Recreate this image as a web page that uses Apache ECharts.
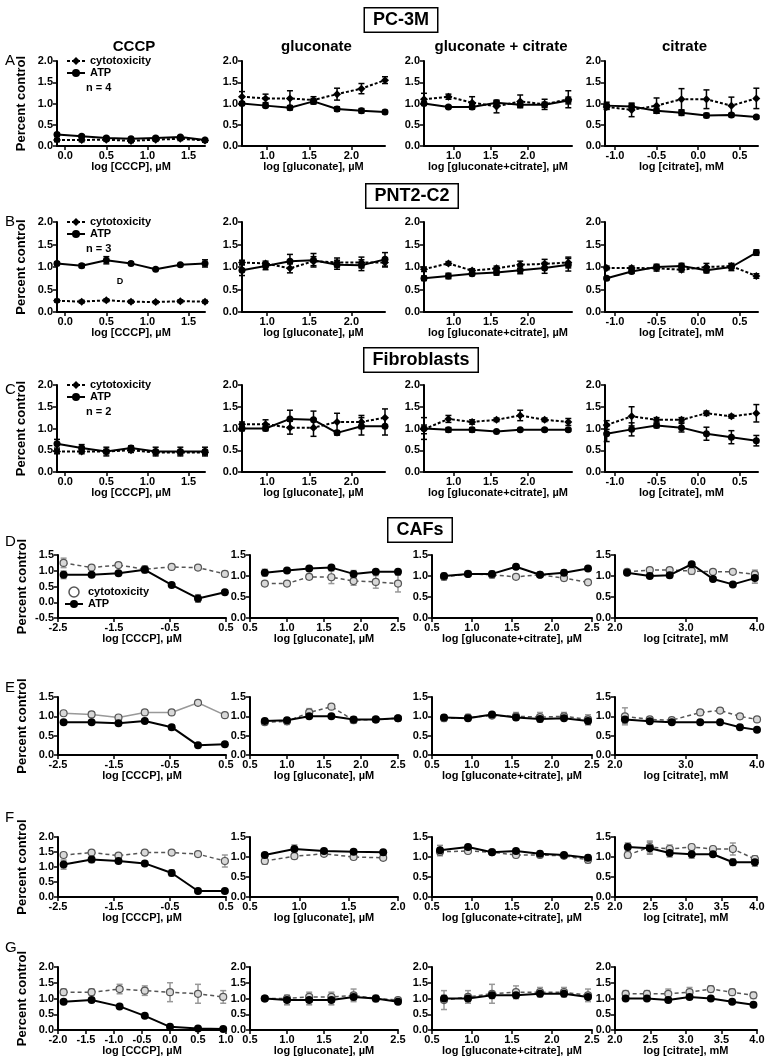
<!DOCTYPE html>
<html>
<head>
<meta charset="utf-8">
<script src="https://cdn.jsdelivr.net/npm/echarts@6/dist/echarts.min.js"></script>
<style>
html, body { margin: 0; padding: 0; background: #fff; }
#chart { width: 770px; height: 1060px; }
</style>
</head>
<body>
<div id="chart"></div>
<script>
// ---- x values (log dose), rows A-C share the same dilution series ----
const xAC = [[-0.1, 0.2, 0.5, 0.8, 1.1, 1.4, 1.7], [0.7, 0.98, 1.27, 1.55, 1.83, 2.12, 2.4], [0.6, 0.93, 1.25, 1.58, 1.9, 2.23, 2.55], [-1.1, -0.8, -0.5, -0.2, 0.1, 0.4, 0.7]];
const xD = [[-2.4, -1.9, -1.42, -0.95, -0.47, 0.0, 0.48], [0.7, 1.0, 1.3, 1.6, 1.9, 2.2, 2.5], [0.65, 0.95, 1.25, 1.55, 1.85, 2.15, 2.45], [2.17, 2.49, 2.77, 3.08, 3.38, 3.66, 3.97]];
const xE = [[-2.4, -1.9, -1.42, -0.95, -0.47, 0.0, 0.48], [0.7, 1.0, 1.3, 1.6, 1.9, 2.2, 2.5], [0.65, 0.95, 1.25, 1.55, 1.85, 2.15, 2.45], [2.14, 2.49, 2.8, 3.2, 3.48, 3.76, 4.0]];
const xF = [[-2.4, -1.9, -1.42, -0.95, -0.47, 0.0, 0.48], [0.65, 0.95, 1.25, 1.55, 1.85], [0.6, 0.95, 1.25, 1.55, 1.85, 2.15, 2.45], [2.18, 2.49, 2.77, 3.08, 3.38, 3.66, 3.97]];
const xG = [[-1.9, -1.4, -0.9, -0.45, 0.0, 0.5, 0.95], [0.7, 1.0, 1.3, 1.6, 1.9, 2.2, 2.5], [0.65, 0.95, 1.25, 1.55, 1.85, 2.15, 2.45], [2.15, 2.45, 2.75, 3.05, 3.35, 3.65, 3.95]];

// ---- PC-3M ----
const cytoA = [[0.14, 0.14, 0.15, 0.12, 0.15, 0.17, 0.13], [1.16, 1.12, 1.12, 1.08, 1.22, 1.35, 1.55], [1.1, 1.16, 1.02, 0.93, 1.05, 0.98, 1.1], [0.92, 0.85, 0.95, 1.1, 1.1, 0.95, 1.12]];
const cytoErrA = [[0.04, 0.04, 0.04, 0.04, 0.04, 0.04, 0.04], [0.12, 0.1, 0.18, 0.08, 0.14, 0.12, 0.08], [0.14, 0.06, 0.14, 0.15, 0.15, 0.12, 0.2], [0.06, 0.16, 0.18, 0.25, 0.22, 0.2, 0.24]];
const atpA = [[0.27, 0.23, 0.19, 0.17, 0.19, 0.21, 0.14], [1.0, 0.95, 0.9, 1.05, 0.87, 0.83, 0.8], [1.0, 0.92, 0.92, 1.02, 0.97, 0.97, 1.07], [0.95, 0.93, 0.83, 0.78, 0.72, 0.73, 0.68]];
const atpErrA = [[0.03, 0.03, 0.03, 0.03, 0.03, 0.03, 0.03], [0.04, 0.04, 0.05, 0.06, 0.05, 0.05, 0.04], [0.04, 0.03, 0.05, 0.04, 0.05, 0.06, 0.08], [0.08, 0.06, 0.06, 0.06, 0.05, 0.04, 0.03]];

// ---- PNT2-C2 ----
const cytoB = [[0.25, 0.23, 0.26, 0.23, 0.22, 0.24, 0.23], [1.1, 1.08, 0.97, 1.13, 1.1, 1.1, 1.1], [0.95, 1.08, 0.92, 0.97, 1.05, 1.07, 1.1], [0.98, 0.98, 0.97, 0.94, 1.0, 1.02, 0.8]];
const cytoErrB = [[0.03, 0.03, 0.03, 0.03, 0.03, 0.03, 0.03], [0.05, 0.05, 0.1, 0.1, 0.1, 0.12, 0.1], [0.05, 0.04, 0.04, 0.05, 0.08, 0.1, 0.12], [0.04, 0.04, 0.06, 0.05, 0.08, 0.05, 0.05]];
const atpB = [[1.08, 1.03, 1.15, 1.08, 0.95, 1.05, 1.08], [0.93, 1.02, 1.13, 1.15, 1.05, 1.04, 1.17], [0.75, 0.8, 0.85, 0.88, 0.93, 0.98, 1.05], [0.75, 0.9, 1.0, 1.02, 0.93, 1.0, 1.32]];
const atpErrB = [[0.03, 0.04, 0.08, 0.03, 0.02, 0.02, 0.08], [0.12, 0.08, 0.15, 0.15, 0.1, 0.12, 0.15], [0.05, 0.06, 0.04, 0.06, 0.08, 0.12, 0.14], [0.03, 0.04, 0.06, 0.06, 0.06, 0.08, 0.06]];

// ---- Fibroblasts ----
const cytoC = [[0.47, 0.47, 0.47, 0.5, 0.45, 0.45, 0.45], [1.1, 1.1, 1.02, 1.02, 1.15, 1.15, 1.25], [0.98, 1.22, 1.15, 1.2, 1.3, 1.2, 1.15], [1.08, 1.28, 1.2, 1.2, 1.35, 1.28, 1.35]];
const cytoErrC = [[0.05, 0.05, 0.05, 0.05, 0.05, 0.05, 0.05], [0.05, 0.1, 0.15, 0.2, 0.2, 0.15, 0.2], [0.1, 0.08, 0.05, 0.04, 0.12, 0.04, 0.08], [0.1, 0.22, 0.05, 0.05, 0.05, 0.04, 0.2]];
const atpC = [[0.65, 0.55, 0.47, 0.55, 0.47, 0.47, 0.47], [1.0, 1.0, 1.22, 1.2, 0.9, 1.05, 1.05], [1.0, 0.97, 0.97, 0.93, 0.97, 0.97, 0.97], [0.88, 0.98, 1.07, 1.02, 0.88, 0.8, 0.72]];
const atpErrC = [[0.1, 0.08, 0.1, 0.05, 0.1, 0.1, 0.1], [0.05, 0.05, 0.2, 0.2, 0.05, 0.2, 0.2], [0.25, 0.05, 0.05, 0.02, 0.03, 0.03, 0.03], [0.18, 0.15, 0.05, 0.1, 0.15, 0.15, 0.12]];

// ---- CAFs D-G ----
const cytoD = [[1.25, 1.1, 1.18, 1.05, 1.12, 1.1, 0.9], [0.82, 0.82, 0.98, 0.97, 0.88, 0.86, 0.82], [0.98, 1.05, 1.03, 0.98, 1.03, 0.95, 0.85], [1.1, 1.14, 1.14, 1.12, 1.1, 1.1, 1.04]];
const cytoErrD = [[0.15, 0.04, 0.04, 0.1, 0.04, 0.04, 0.08], [0.04, 0.04, 0.06, 0.15, 0.1, 0.15, 0.2], [0.08, 0.04, 0.08, 0.04, 0.04, 0.06, 0.04], [0.04, 0.04, 0.04, 0.08, 0.04, 0.04, 0.1]];
const atpD = [[0.87, 0.87, 0.92, 1.03, 0.55, 0.12, 0.32], [1.08, 1.13, 1.18, 1.2, 1.05, 1.1, 1.1], [1.0, 1.05, 1.05, 1.22, 1.03, 1.08, 1.18], [1.08, 1.0, 1.02, 1.28, 0.93, 0.8, 0.95]];
const atpErrD = [[0.12, 0.04, 0.04, 0.1, 0.04, 0.12, 0.04], [0.08, 0.04, 0.04, 0.04, 0.08, 0.04, 0.04], [0.06, 0.04, 0.06, 0.04, 0.04, 0.06, 0.04], [0.04, 0.04, 0.06, 0.04, 0.04, 0.04, 0.12]];

const cytoE = [[1.08, 1.05, 0.97, 1.1, 1.1, 1.35, 1.03], [0.85, 0.87, 1.1, 1.25, 0.9, 0.92, 0.95], [0.95, 0.97, 1.02, 1.0, 0.98, 1.0, 0.92], [1.0, 0.92, 0.9, 1.1, 1.15, 1.0, 0.92]];
const cytoErrE = [[0.04, 0.06, 0.04, 0.06, 0.04, 0.02, 0.04], [0.06, 0.08, 0.1, 0.04, 0.08, 0.06, 0.06], [0.08, 0.08, 0.04, 0.1, 0.12, 0.1, 0.12], [0.22, 0.06, 0.04, 0.06, 0.04, 0.06, 0.04]];
const atpE = [[0.85, 0.85, 0.82, 0.88, 0.72, 0.25, 0.28], [0.88, 0.9, 1.0, 1.0, 0.92, 0.92, 0.95], [0.97, 0.95, 1.05, 0.97, 0.93, 0.95, 0.88], [0.92, 0.87, 0.85, 0.85, 0.85, 0.72, 0.65]];
const atpErrE = [[0.03, 0.03, 0.05, 0.03, 0.06, 0.02, 0.02], [0.04, 0.05, 0.03, 0.03, 0.06, 0.04, 0.04], [0.06, 0.05, 0.03, 0.06, 0.07, 0.05, 0.1], [0.1, 0.03, 0.03, 0.03, 0.03, 0.03, 0.03]];

const cytoF = [[1.4, 1.48, 1.38, 1.48, 1.48, 1.43, 1.2], [0.9, 1.02, 1.08, 1.0, 0.98], [1.13, 1.15, 1.12, 1.05, 1.05, 1.03, 0.93], [1.05, 1.25, 1.2, 1.25, 1.2, 1.2, 0.95]];
const cytoErrF = [[0.06, 0.06, 0.06, 0.06, 0.06, 0.08, 0.2], [0.08, 0.06, 0.05, 0.05, 0.05], [0.1, 0.05, 0.05, 0.06, 0.06, 0.05, 0.08], [0.08, 0.15, 0.1, 0.06, 0.06, 0.15, 0.08]];
const atpF = [[1.08, 1.25, 1.2, 1.12, 0.8, 0.2, 0.2], [1.05, 1.2, 1.15, 1.13, 1.12], [1.17, 1.25, 1.12, 1.15, 1.08, 1.05, 0.98], [1.25, 1.22, 1.1, 1.07, 1.07, 0.87, 0.87]];
const atpErrF = [[0.15, 0.1, 0.06, 0.06, 0.1, 0.03, 0.03], [0.05, 0.1, 0.04, 0.04, 0.04], [0.12, 0.05, 0.04, 0.05, 0.06, 0.04, 0.06], [0.1, 0.15, 0.1, 0.1, 0.05, 0.08, 0.1]];

const cytoG = [[1.2, 1.2, 1.3, 1.25, 1.2, 1.15, 1.05], [1.0, 1.0, 1.05, 1.05, 1.1, 1.0, 0.95], [0.95, 1.05, 1.15, 1.2, 1.2, 1.2, 1.1], [1.15, 1.15, 1.15, 1.2, 1.3, 1.2, 1.1]];
const cytoErrG = [[0.1, 0.1, 0.15, 0.15, 0.3, 0.3, 0.2], [0.05, 0.1, 0.15, 0.15, 0.2, 0.1, 0.05], [0.3, 0.2, 0.3, 0.2, 0.15, 0.15, 0.2], [0.1, 0.1, 0.15, 0.15, 0.1, 0.1, 0.1]];
const atpG = [[0.9, 0.95, 0.75, 0.45, 0.1, 0.05, 0.03], [1.0, 0.95, 0.95, 0.95, 1.05, 1.0, 0.9], [1.0, 1.0, 1.1, 1.1, 1.15, 1.15, 1.05], [1.0, 1.0, 0.95, 1.05, 1.0, 0.9, 0.8]];
const atpErrG = [[0.05, 0.05, 0.05, 0.05, 0.03, 0.03, 0.03], [0.05, 0.15, 0.15, 0.15, 0.1, 0.05, 0.05], [0.1, 0.1, 0.1, 0.1, 0.05, 0.05, 0.05], [0.05, 0.05, 0.05, 0.05, 0.05, 0.05, 0.05]];

// ---- axes ----
const xRangeAC = [[-0.1, 1.7], [0.7, 2.4], [0.6, 2.6], [-1.12, 0.72]];
const xTicksAC = [[0, 0.5, 1, 1.5], [1, 1.5, 2], [1, 1.5, 2], [-1, -0.5, 0, 0.5]];
const xRangeDE = [[-2.5, 0.5], [0.5, 2.5], [0.5, 2.5], [2, 4]];
const xTicksDE = [[-2.5, -1.5, -0.5, 0.5], [0.5, 1, 1.5, 2, 2.5], [0.5, 1, 1.5, 2, 2.5], [2, 3, 4]];
const xRangeF = [[-2.5, 0.5], [0.5, 2.0], [0.5, 2.5], [2, 4]];
const xTicksF = [[-2.5, -1.5, -0.5, 0.5], [0.5, 1, 1.5, 2], [0.5, 1, 1.5, 2, 2.5], [2, 2.5, 3, 3.5, 4]];
const xRangeG = [[-2, 1], [0.5, 2.5], [0.5, 2.5], [2, 4]];
const xTicksG = [[-2, -1.5, -1, -0.5, 0, 0.5, 1], [0.5, 1, 1.5, 2, 2.5], [0.5, 1, 1.5, 2, 2.5], [2, 2.5, 3, 3.5, 4]];
const yRangeAC = [[0, 2], [0, 2], [0, 2], [0, 2]];
const yRangeD = [[-0.5, 1.5], [0, 1.5], [0, 1.5], [0, 1.5]];
const yRangeE = [[0, 1.5], [0, 1.5], [0, 1.5], [0, 1.5]];
const yRangeF = [[0, 2], [0, 1.5], [0, 1.5], [0, 1.5]];
const yRangeG = [[0, 2], [0, 2], [0, 2], [0, 2]];

const colTitles = ['CCCP', 'gluconate', 'gluconate + citrate', 'citrate'];
const axisNames = ['log [CCCP], µM', 'log [gluconate], µM', 'log [gluconate+citrate], µM', 'log [citrate], mM'];

const FONT = "'Liberation Sans', Arial, sans-serif";

// panel frame layout
const colTop = { l: [57, 242, 424, 605], r: [205, 385, 572, 758] };
const colBot = { l: [58, 250, 432, 615], r: [226, 398, 592, 757] };

const rows = [
  { letter: 'A', y0: 61, y1: 146, cols: colTop, caf: false, x: xAC, cyto: cytoA, cytoErr: cytoErrA, atp: atpA, atpErr: atpErrA, xr: xRangeAC, xt: xTicksAC, yr: yRangeAC },
  { letter: 'B', y0: 222, y1: 312, cols: colTop, caf: false, x: xAC, cyto: cytoB, cytoErr: cytoErrB, atp: atpB, atpErr: atpErrB, xr: xRangeAC, xt: xTicksAC, yr: yRangeAC },
  { letter: 'C', y0: 385, y1: 472, cols: colTop, caf: false, x: xAC, cyto: cytoC, cytoErr: cytoErrC, atp: atpC, atpErr: atpErrC, xr: xRangeAC, xt: xTicksAC, yr: yRangeAC },
  { letter: 'D', y0: 555, y1: 618, cols: colBot, caf: true, x: xD, cyto: cytoD, cytoErr: cytoErrD, atp: atpD, atpErr: atpErrD, xr: xRangeDE, xt: xTicksDE, yr: yRangeD },
  { letter: 'E', y0: 697, y1: 755, cols: colBot, caf: true, x: xE, cyto: cytoE, cytoErr: cytoErrE, atp: atpE, atpErr: atpErrE, xr: xRangeDE, xt: xTicksDE, yr: yRangeE },
  { letter: 'F', y0: 837, y1: 897, cols: colBot, caf: true, x: xF, cyto: cytoF, cytoErr: cytoErrF, atp: atpF, atpErr: atpErrF, xr: xRangeF, xt: xTicksF, yr: yRangeF },
  { letter: 'G', y0: 967, y1: 1030, cols: colBot, caf: true, x: xG, cyto: cytoG, cytoErr: cytoErrG, atp: atpG, atpErr: atpErrG, xr: xRangeG, xt: xTicksG, yr: yRangeG }
];

function errBars(color) {
  return function (params, api) {
    const x = api.value(0), y = api.value(1), e = api.value(2);
    const a = api.coord([x, y + e]);
    const b = api.coord([x, y - e]);
    const st = { stroke: color, lineWidth: 1.5 };
    return {
      type: 'group',
      children: [
        { type: 'line', shape: { x1: a[0], y1: a[1], x2: b[0], y2: b[1] }, style: st },
        { type: 'line', shape: { x1: a[0] - 3, y1: a[1], x2: a[0] + 3, y2: a[1] }, style: st },
        { type: 'line', shape: { x1: b[0] - 3, y1: b[1], x2: b[0] + 3, y2: b[1] }, style: st }
      ]
    };
  };
}

const zip = (xs, ys) => xs.map((v, i) => [v, ys[i]]);
const zip3 = (xs, ys, es) => xs.map((v, i) => [v, ys[i], es[i]]);
const tickFmt = v => v.toFixed(1);
const labelStyle = { fontSize: 11, fontWeight: 'bold', color: '#000', fontFamily: FONT };

const grids = [], xAxes = [], yAxes = [], series = [];
let idx = 0;
rows.forEach(row => {
  for (let c = 0; c < 4; c++) {
    const L = row.cols.l[c], R = row.cols.r[c];
    grids.push({ left: L, top: row.y0, width: R - L, height: row.y1 - row.y0 });
    xAxes.push({
      gridIndex: idx, type: 'value', min: row.xr[c][0], max: row.xr[c][1],
      axisLine: { show: true, onZero: false, lineStyle: { color: '#000', width: 2 } },
      axisTick: { show: true, length: 4, customValues: row.xt[c], lineStyle: { color: '#000', width: 1.5 } },
      axisLabel: Object.assign({ customValues: row.xt[c], formatter: tickFmt, margin: 4 }, labelStyle),
      splitLine: { show: false },
      name: axisNames[c], nameLocation: 'middle', nameGap: 15,
      nameTextStyle: { fontSize: 11, fontWeight: 'bold', color: '#000', fontFamily: FONT }
    });
    yAxes.push({
      gridIndex: idx, type: 'value', min: row.yr[c][0], max: row.yr[c][1], interval: 0.5,
      axisLine: { show: true, onZero: false, lineStyle: { color: '#000', width: 2 } },
      axisTick: { show: true, length: 4, lineStyle: { color: '#000', width: 1.5 } },
      axisLabel: Object.assign({ formatter: tickFmt, margin: 4 }, labelStyle),
      splitLine: { show: false },
      name: c === 0 ? 'Percent control' : '', nameLocation: 'middle', nameGap: 29,
      nameTextStyle: { fontSize: 13, fontWeight: 'bold', color: '#000', fontFamily: FONT }
    });

    const greySolid = row.letter === 'E' && c === 0;
    const cytoLine = row.caf
      ? { color: greySolid ? '#999' : '#555', width: 1.5, type: greySolid ? 'solid' : [4, 3] }
      : { color: '#000', width: 2, type: [3, 2] };
    const cytoItem = row.caf
      ? { color: '#d8d8d8', borderColor: '#555', borderWidth: 1.2 }
      : { color: '#000' };
    series.push({
      type: 'custom', xAxisIndex: idx, yAxisIndex: idx, z: 1, silent: true,
      renderItem: errBars(row.caf ? '#999' : '#000'),
      data: zip3(row.x[c], row.cyto[c], row.cytoErr[c])
    });
    series.push({
      type: 'custom', xAxisIndex: idx, yAxisIndex: idx, z: 1, silent: true,
      renderItem: errBars(row.caf ? '#888' : '#000'),
      data: zip3(row.x[c], row.atp[c], row.atpErr[c])
    });
    series.push({
      name: row.caf ? 'CAF cytotoxicity' : 'cytotoxicity', type: 'line',
      xAxisIndex: idx, yAxisIndex: idx, z: 3, clip: false,
      symbol: row.caf ? 'circle' : 'diamond', symbolSize: row.caf ? 7 : 8,
      lineStyle: cytoLine, itemStyle: cytoItem,
      data: zip(row.x[c], row.cyto[c])
    });
    series.push({
      name: row.caf ? 'CAF ATP' : 'ATP', type: 'line',
      xAxisIndex: idx, yAxisIndex: idx, z: 4, clip: false,
      symbol: 'circle', symbolSize: row.caf ? 8 : 7,
      lineStyle: { color: '#000', width: 2 }, itemStyle: { color: '#000' },
      data: zip(row.x[c], row.atp[c])
    });
    idx++;
  }
});

const legendText = { fontSize: 11, fontWeight: 'bold', color: '#000', fontFamily: FONT, lineHeight: 12 };
const legends = rows.slice(0, 3).map(row => ({
  left: 66, top: row.y0 - 6, orient: 'vertical', itemGap: 0, itemWidth: 18, itemHeight: 10, padding: 0,
  selectedMode: false, data: ['cytotoxicity', 'ATP'], textStyle: legendText
}));
legends.push({
  left: 64, top: 586, orient: 'vertical', itemGap: 0, itemWidth: 18, itemHeight: 10, padding: 0,
  selectedMode: false, textStyle: legendText,
  formatter: n => n.replace('CAF ', ''),
  data: [
    { name: 'CAF cytotoxicity', icon: 'circle', itemStyle: { color: '#fff', borderColor: '#555', borderWidth: 1.5 } },
    { name: 'CAF ATP' }
  ]
});

const nLabels = ['n = 4', 'n = 3', 'n = 2'];
const boxes = [['PC-3M', 401, 20], ['PNT2-C2', 412, 196], ['Fibroblasts', 421, 360], ['CAFs', 420, 530]];
const letterY = [61, 222, 390, 542, 688, 818, 948];

const graphic = [];
colTitles.forEach((t, c) => {
  graphic.push({ type: 'text', x: (colTop.l[c] + colTop.r[c]) / 2 + 3, y: 47, style: { text: t, font: 'bold 15px ' + FONT, fill: '#000', align: 'center', verticalAlign: 'middle' } });
});
boxes.forEach(b => {
  graphic.push({ type: 'text', x: b[1], y: b[2], style: { text: b[0], font: 'bold 18px ' + FONT, fill: '#000', align: 'center', verticalAlign: 'middle', borderColor: '#000', borderWidth: 1.5, padding: [3, 8, 2, 8], backgroundColor: '#fff' } });
});
rows.forEach((row, r) => {
  graphic.push({ type: 'text', x: 5, y: letterY[r], style: { text: row.letter, font: '15px ' + FONT, fill: '#000', verticalAlign: 'middle' } });
});
rows.slice(0, 3).forEach((row, r) => {
  graphic.push({ type: 'text', x: 86, y: row.y0 + 27, style: { text: nLabels[r], font: 'bold 11px ' + FONT, fill: '#000', verticalAlign: 'middle' } });
});
graphic.push({ type: 'text', x: 120, y: 282, style: { text: 'D', font: 'bold 9px ' + FONT, fill: '#000', align: 'center', verticalAlign: 'middle' } });

const chart = echarts.init(document.getElementById('chart'));
chart.setOption({
  animation: false,
  backgroundColor: '#fff',
  grid: grids,
  xAxis: xAxes,
  yAxis: yAxes,
  legend: legends,
  graphic: graphic,
  series: series
});
</script>
</body>
</html>
